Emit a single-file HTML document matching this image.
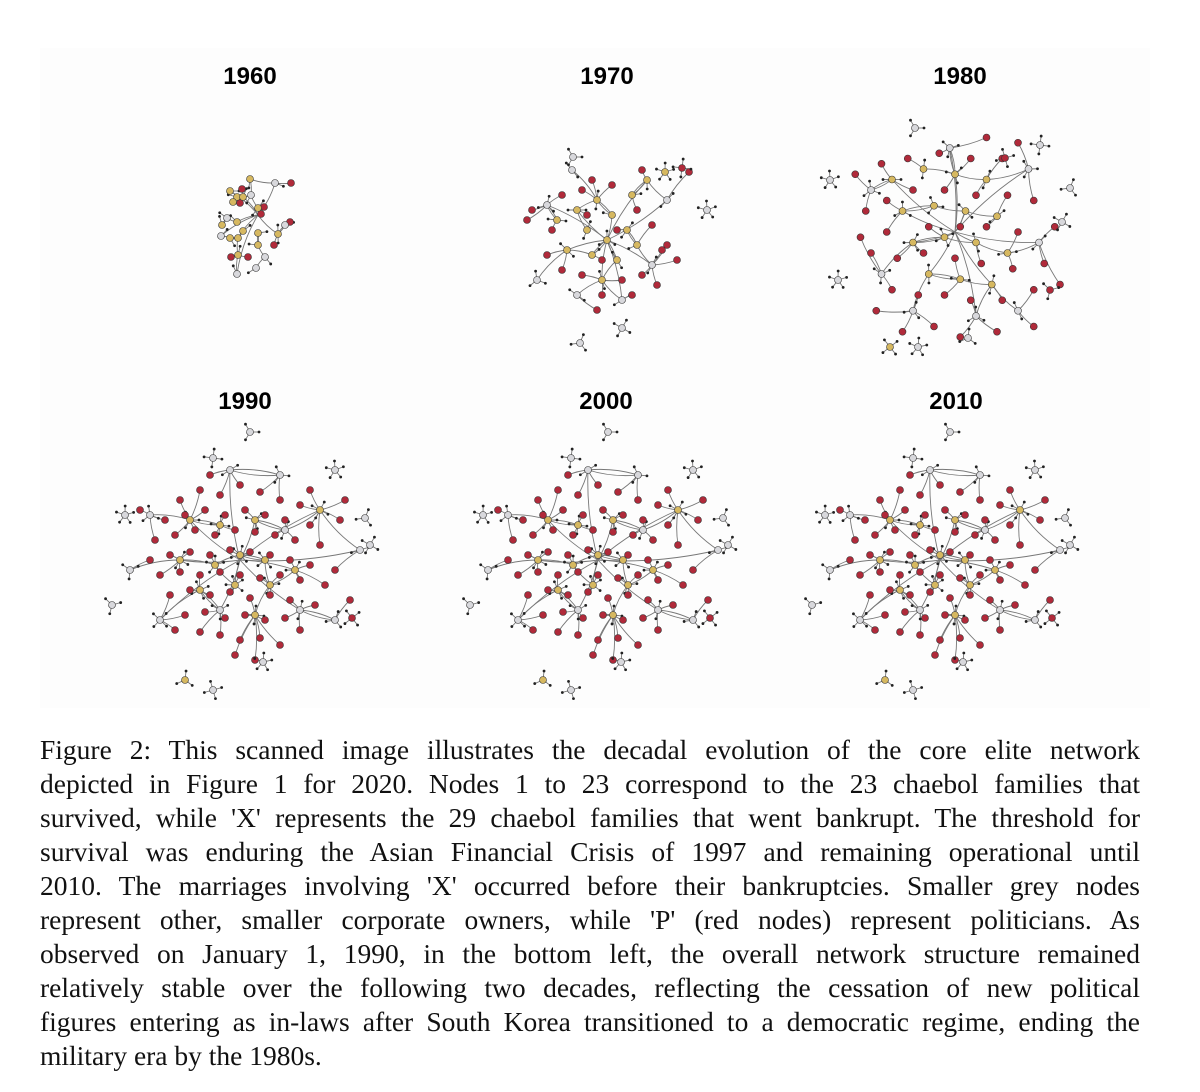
<!DOCTYPE html>
<html><head><meta charset="utf-8">
<style>
html,body{margin:0;padding:0;background:#fff;width:1200px;height:1092px;overflow:hidden}
#fig{position:absolute;left:0;top:0}
.cap{position:absolute;left:40px;width:1100px;font-family:"Liberation Serif",serif;font-size:27.5px;color:#111;text-align:justify;text-align-last:justify;white-space:nowrap;line-height:30px}
.cap.last{text-align-last:left}
</style></head><body>
<svg id="fig" width="1200" height="720">
<rect x="40" y="48" width="1110" height="660" fill="#fdfdfd"/>
<g id="edges"></g><g id="nodes"></g>
<g font-family="Liberation Sans, sans-serif" font-weight="bold" font-size="24" text-anchor="middle" fill="#000">
<text x="250" y="84">1960</text>
<text x="607" y="84">1970</text>
<text x="960" y="84">1980</text>
<text x="245" y="409">1990</text>
<text x="606" y="409">2000</text>
<text x="956" y="409">2010</text>
</g>
</svg>
<div class="cap" style="top:735px">Figure 2: This scanned image illustrates the decadal evolution of the core elite network</div>
<div class="cap" style="top:769px">depicted in Figure 1 for 2020. Nodes 1 to 23 correspond to the 23 chaebol families that</div>
<div class="cap" style="top:803px">survived, while 'X' represents the 29 chaebol families that went bankrupt. The threshold for</div>
<div class="cap" style="top:837px">survival was enduring the Asian Financial Crisis of 1997 and remaining operational until</div>
<div class="cap" style="top:871px">2010. The marriages involving 'X' occurred before their bankruptcies. Smaller grey nodes</div>
<div class="cap" style="top:905px">represent other, smaller corporate owners, while 'P' (red nodes) represent politicians. As</div>
<div class="cap" style="top:939px">observed on January 1, 1990, in the bottom left, the overall network structure remained</div>
<div class="cap" style="top:973px">relatively stable over the following two decades, reflecting the cessation of new political</div>
<div class="cap" style="top:1007px">figures entering as in-laws after South Korea transitioned to a democratic regime, ending the</div>
<div class="cap last" style="top:1041px">military era by the 1980s.</div>
<script>
// ---- 1960 data (absolute positions) ----
const hubs1960 = [[230,191,'y'],[250,179,'y'],[237,197,'y'],[243,197,'y'],[233,202,'y'],[258,208,'y'],[237,222,'y'],[243,231,'y'],[230,238,'y'],[238,238,'y'],[222,225,'y'],[258,233,'y'],[278,234,'y'],[258,245,'y'],[238,255,'y'],[275,183,'g'],[251,195,'g'],[227,218,'g'],[221,236,'g'],[265,257,'g'],[256,268,'g'],[237,274,'g'],[285,225,'g']];
const reds1960 = [[242,189],[240,203],[264,207],[261,214],[291,183],[290,222],[274,245],[231,257],[248,257]];
const leaf1960 = [1,1,1,1,0,2,1,1,1,0,1,1,2,1,1,1,1,1,1,1,1,1,1];
// ---- 1970 data (offsets from center) ----
const hubs1970 = [[-30,-30,'y'],[-10,-40,'y'],[5,-25,'y'],[-20,-10,'y'],[0,0,'y'],[20,-10,'y'],[-40,10,'y'],[-15,15,'y'],[10,20,'y'],[30,5,'y'],[-5,40,'y'],[25,-45,'y'],[40,-60,'y'],[-50,-20,'y'],[-60,-35,'g'],[-70,40,'g'],[45,25,'g'],[-30,55,'g'],[60,-40,'g'],[-35,-70,'g'],[15,60,'g']];
const reds1970 = [[-75,-30],[-55,-10],[-45,-45],[-25,-50],[5,-55],[30,-30],[45,-15],[55,10],[35,35],[15,40],[-5,55],[-25,35],[-45,30],[-60,15],[-20,-25],[10,-10],[-5,20],[60,5],[25,55],[-10,70],[35,-70],[-15,-60],[82,-68],[70,20],[-80,-20],[50,45]];
const leaf1970 = [2,2,1,2,3,2,2,1,2,1,2,1,1,2,3,3,2,2,2,2,2];
const out1970 = [[573,157,'g'],[682,168,'r'],[707,210,'g'],[580,343,'g'],[622,328,'g'],[665,172,'y']];
// ---- 1980 data ----
const hubs1980 = [[-60,-50,'y'],[-30,-60,'y'],[0,-55,'y'],[30,-50,'y'],[-50,-20,'y'],[-20,-25,'y'],[10,-20,'y'],[40,-15,'y'],[-40,10,'y'],[-10,5,'y'],[20,10,'y'],[50,20,'y'],[-25,40,'y'],[5,45,'y'],[35,50,'y'],[-80,-40,'g'],[70,-60,'g'],[-70,40,'g'],[80,10,'g'],[-40,75,'g'],[20,80,'g'],[60,75,'g'],[-5,-80,'g']];
const reds1980 = [[-70,-65],[-45,-70],[-15,-75],[15,-70],[45,-70],[-85,-20],[-65,-30],[-40,-40],[-10,-40],[20,-35],[50,-35],[75,-30],[-90,5],[-65,0],[-25,-5],[5,-5],[30,-5],[60,0],[95,-5],[-80,20],[-55,25],[-30,20],[0,25],[25,30],[55,35],[85,30],[-60,55],[-35,60],[-10,60],[15,65],[45,65],[75,55],[-20,90],[40,95],[5,100],[100,50],[-95,-55],[60,-85],[-50,95],[75,90],[-75,75],[30,-90]];
const leaf1980 = [2,2,3,2,3,3,2,2,3,4,2,2,2,2,2,3,3,3,2,3,3,2,3];
const out1980 = [[915,128,'g'],[1040,145,'g'],[830,180,'g'],[1070,188,'g'],[1062,222,'g'],[838,280,'g'],[1050,290,'r'],[890,347,'y'],[918,347,'g'],[968,338,'g'],[1005,158,'r']];
// ---- 1990/2000/2010 data ----
const hubsLate = [[-50,-40,'y'],[-20,-35,'y'],[15,-40,'y'],[45,-30,'g'],[-60,0,'y'],[-25,5,'y'],[0,-5,'y'],[25,0,'y'],[55,10,'y'],[-40,30,'y'],[-5,25,'y'],[30,25,'y'],[-20,50,'g'],[15,55,'y'],[60,50,'g'],[-90,-45,'g'],[80,-50,'y'],[-110,10,'g'],[-80,60,'g'],[95,60,'g'],[-10,-90,'g'],[40,-85,'g'],[120,-10,'g']];
const redsLate = [[-60,-60],[-40,-70],[-20,-65],[0,-75],[20,-68],[40,-60],[60,-55],[-75,-40],[-55,-45],[-35,-50],[-15,-45],[5,-50],[25,-45],[45,-40],[70,-35],[-85,-20],[-65,-25],[-45,-30],[-25,-25],[-5,-30],[15,-28],[35,-25],[55,-20],[80,-15],[-90,0],[-70,-5],[-50,-8],[-30,-5],[-10,-10],[10,-8],[30,-5],[50,0],[70,5],[95,10],[-80,15],[-60,12],[-40,15],[-20,12],[0,15],[20,18],[40,15],[60,20],[85,25],[-70,35],[-50,30],[-30,35],[-10,32],[10,38],[30,35],[50,40],[75,45],[-55,55],[-35,52],[-15,58],[5,55],[25,60],[45,58],[-40,72],[-20,75],[0,80],[20,78],[40,85],[-65,70],[60,70],[100,-40],[-100,-50],[110,40],[-5,95],[15,100],[-30,-85],[70,-70],[105,-60]];
const leafLate = [3,4,3,2,4,5,6,4,3,4,5,3,3,4,2,3,4,3,4,3,2,3,2];
const outLate = [[10,-128,'g'],[-27,-102,'g'],[95,-90,'g'],[125,-42,'g'],[130,-15,'g'],[-115,-45,'g'],[-128,45,'g'],[112,58,'r'],[23,102,'g'],[-55,120,'y'],[-27,130,'g']];
const centers = [[607,240],[955,232],[240,560],[598,560],[940,560]];

const E=document.getElementById('edges'), N=document.getElementById('nodes');
const NS='http://www.w3.org/2000/svg';
const col={r:'#b02a3a',y:'#d6b860',g:'#d8d8dc'};
function edge(x1,y1,x2,y2,k){
  const p=document.createElementNS(NS,'path');
  const mx=(x1+x2)/2+(y2-y1)*0.25*k, my=(y1+y2)/2-(x2-x1)*0.25*k;
  p.setAttribute('d',`M${x1},${y1}Q${mx},${my} ${x2},${y2}`);
  p.setAttribute('fill','none');p.setAttribute('stroke','#777');p.setAttribute('stroke-width','0.9');
  
  
  E.appendChild(p);
}
function node(x,y,t,r){
  const c=document.createElementNS(NS,'circle');
  c.setAttribute('cx',x);c.setAttribute('cy',y);
  if(t==='d'){c.setAttribute('r',1.4);c.setAttribute('fill','#222');}
  else{c.setAttribute('r',r);c.setAttribute('fill',col[t]);c.setAttribute('stroke','#333');c.setAttribute('stroke-width','0.6');}
  
  
  N.appendChild(c);
}
function leaves(x,y,n,i){
  for(let j=0;j<n;j++){const a=i*1.7+j*(6.283/Math.max(n,1));const lx=x+Math.cos(a)*9,ly=y+Math.sin(a)*9;edge(x,y,lx,ly,0);node(lx,ly,'d');}
}
function net(hubs,reds,leafs,cx,cy,s,r){
  const H=hubs.map(h=>[cx+h[0]*s,cy+h[1]*s,h[2]]);
  H.forEach((h,i)=>{
    let best=-1,bd=1e9;H.forEach((o,j)=>{if(j!==i){const d=(o[0]-h[0])**2+(o[1]-h[1])**2;if(d<bd){bd=d;best=j;}}});
    edge(h[0],h[1],H[best][0],H[best][1],0.4);
    if(i%2===0) edge(h[0],h[1],cx,cy,(i%4?0.3:-0.3));
  });
  reds.forEach((p,i)=>{const x=cx+p[0]*s,y=cy+p[1]*s;
    let best=0,bd=1e9;H.forEach((o,j)=>{const d=(o[0]-x)**2+(o[1]-y)**2;if(d<bd){bd=d;best=j;}});
    edge(x,y,H[best][0],H[best][1],i%2?0.3:-0.3);
  });
  H.forEach((h,i)=>leaves(h[0],h[1],leafs[i],i));
  reds.forEach(p=>node(cx+p[0]*s,cy+p[1]*s,'r',r));
  H.forEach(h=>node(h[0],h[1],h[2],r));
}
function outs(list,dx,dy,r){list.forEach((o,i)=>{const x=o[0]+dx,y=o[1]+dy;leaves(x,y,3+(i%3),i);node(x,y,o[2],r);});}

const H60=hubs1960.map(h=>[h[0],h[1],h[2]]);
H60.forEach((h,i)=>{let best=-1,bd=1e9;H60.forEach((o,j)=>{if(j!==i){const d=(o[0]-h[0])**2+(o[1]-h[1])**2;if(d<bd){bd=d;best=j;}}});edge(h[0],h[1],H60[best][0],H60[best][1],0.4);if(i%3===0)edge(h[0],h[1],258,215,0.4);});
reds1960.forEach((p,i)=>{let best=0,bd=1e9;H60.forEach((o,j)=>{const d=(o[0]-p[0])**2+(o[1]-p[1])**2;if(d<bd){bd=d;best=j;}});edge(p[0],p[1],H60[best][0],H60[best][1],0.3);});
H60.forEach((h,i)=>leaves(h[0],h[1],leaf1960[i],i));
reds1960.forEach(p=>node(p[0],p[1],'r',3.5));
H60.forEach(h=>node(h[0],h[1],h[2],3.5));
net(hubs1970,reds1970,leaf1970,centers[0][0],centers[0][1],1,3.5);
outs(out1970,0,0,3.5);
net(hubs1980,reds1980,leaf1980,centers[1][0],centers[1][1],1.05,3.5);
outs(out1980,0,0,3.5);
for(let k=2;k<5;k++){
  net(hubsLate,redsLate,leafLate,centers[k][0],centers[k][1],1,3.5);
  outs(outLate.map(o=>[o[0]+centers[k][0],o[1]+centers[k][1],o[2]]),0,0,3.5);
}
</script>
</body></html>
